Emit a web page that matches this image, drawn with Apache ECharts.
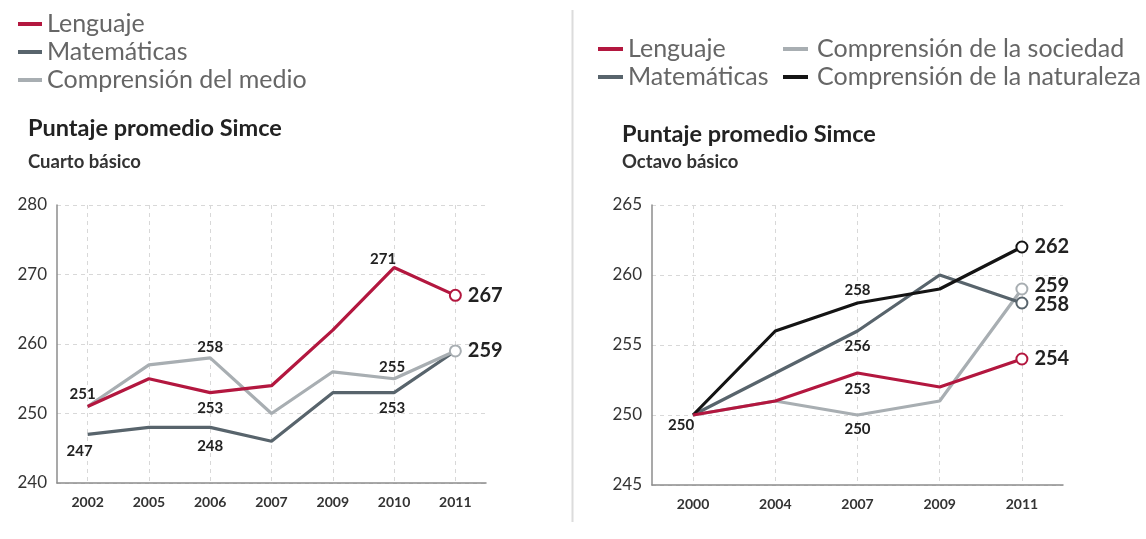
<!DOCTYPE html>
<html><head><meta charset="utf-8">
<script src="https://cdn.jsdelivr.net/npm/echarts@6/dist/echarts.min.js"></script>
<style>html,body{margin:0;padding:0;background:#fff}#c{width:1146px;height:539px}</style>
</head><body><div id="c"></div>
<script>
// ---- data ----
const leftYears = ['2002', '2005', '2006', '2007', '2009', '2010', '2011'];
const leftLenguaje = [251, 255, 253, 254, 262, 271, 267];
const leftMatematicas = [247, 248, 248, 246, 253, 253, 259];
const leftMedio = [251, 257, 258, 250, 256, 255, 259];
const leftYMin = 240, leftYMax = 280, leftYStep = 10;

const rightYears = ['2000', '2004', '2007', '2009', '2011'];
const rightLenguaje = [250, 251, 253, 252, 254];
const rightMatematicas = [250, 253, 256, 260, 258];
const rightSociedad = [250, 251, 250, 251, 259];
const rightNaturaleza = [250, 256, 258, 259, 262];
const rightYMin = 245, rightYMax = 265, rightYStep = 5;

const titleText = 'Puntaje promedio Simce';
const leftSub = 'Cuarto básico';
const rightSub = 'Octavo básico';

// ---- styles ----
const FONT = 'Lato, "Open Sans", sans-serif';
const C_LEN = '#b3173f', C_MAT = '#58646c', C_LIGHT = '#a8aeb2', C_BLK = '#141414';

function small(pos, dist, off) {
  return { show: true, position: pos, distance: dist, offset: off || [0, 0],
    fontSize: 15, fontWeight: 'bold', color: '#222', fontFamily: FONT };
}
function endLab(off) {
  return { show: true, position: 'right', distance: 6, offset: off || [0, 0], fontSize: 20, fontWeight: 'bold', color: '#222', fontFamily: FONT };
}
function mk(values, labels, endMarker, endOff) {
  const last = values.length - 1;
  return values.map((v, i) => {
    const d = { value: v };
    if (labels[i]) d.label = labels[i];
    if (i === last && endMarker) { d.symbol = 'emptyCircle'; d.symbolSize = 11; d.label = endLab(endOff); }
    return d;
  });
}
function line(name, color, values, labels, endMarker, gi, z, endOff) {
  return {
    type: 'line', name, xAxisIndex: gi, yAxisIndex: gi, z: z,
    symbol: 'circle', symbolSize: 0, showAllSymbol: true, showSymbol: true,
    color: color, lineStyle: { color, width: 3.2 },
    itemStyle: { color, borderWidth: 2 },
    label: { show: false }, emphasis: { disabled: true }, animation: false,
    data: mk(values, labels, endMarker, endOff)
  };
}

const axisLineStyle = { color: '#8c8c8c', width: 1.5 };
const splitStyle = { type: [4, 4], color: '#d8d8d8', width: 1 };
function xAx(gi, data) {
  return { type: 'category', gridIndex: gi, data, boundaryGap: true,
    axisLine: { show: true, lineStyle: axisLineStyle },
    axisTick: { show: false, alignWithLabel: true },
    axisLabel: { margin: 12, fontSize: 14, fontWeight: 'bold', color: '#333', fontFamily: FONT, interval: 0 },
    splitLine: { show: true, alignWithLabel: true, interval: 0, lineStyle: splitStyle } };
}
function yAx(gi, min, max, step) {
  return { type: 'value', gridIndex: gi, min, max, interval: step,
    axisLine: { show: true, lineStyle: axisLineStyle }, axisTick: { show: false },
    axisLabel: { margin: 10, fontSize: 17, color: '#333', fontFamily: FONT },
    splitLine: { show: true, lineStyle: splitStyle } };
}
const legendText = { fontSize: 25, fontWeight: 'normal', color: '#666', lineHeight: 28, fontFamily: FONT };
const titleStyle = { fontSize: 23.5, fontWeight: 'bold', color: '#222', lineHeight: 26, fontFamily: FONT };
const subStyle = { fontSize: 18.5, fontWeight: 'bold', color: '#333', lineHeight: 22, fontFamily: FONT };

const option = {
  backgroundColor: '#fff',
  animation: false,
  title: [
    { text: titleText, left: 28, top: 115, padding: 0, textStyle: titleStyle },
    { text: leftSub, left: 28, top: 151, padding: 0, textStyle: subStyle },
    { text: titleText, left: 622, top: 121, padding: 0, textStyle: titleStyle },
    { text: rightSub, left: 622, top: 151, padding: 0, textStyle: subStyle }
  ],
  legend: [
    { left: 18, top: 10, padding: 0, orient: 'vertical', itemGap: 0, itemWidth: 24, itemHeight: 4, icon: 'rect',
      data: ['Lenguaje', 'Matemáticas', 'Comprensión del medio'], textStyle: legendText, itemStyle: { borderWidth: 0 } },
    { left: 598, top: 35, padding: 0, orient: 'vertical', itemGap: 0, itemWidth: 25, itemHeight: 4, icon: 'rect',
      data: ['Lenguaje', 'Matemáticas'], textStyle: legendText, itemStyle: { borderWidth: 0 } },
    { left: 783, top: 35, padding: 0, orient: 'vertical', itemGap: 0, itemWidth: 25, itemHeight: 4, icon: 'rect',
      data: ['Comprensión de la sociedad', 'Comprensión de la naturaleza'],
      textStyle: Object.assign({}, legendText, { padding: [0, 0, 0, 4] }), itemStyle: { borderWidth: 0 } }
  ],
  grid: [
    { left: 57, top: 205, width: 429, height: 278 },
    { left: 652, top: 205, width: 411, height: 280 }
  ],
  xAxis: [xAx(0, leftYears), xAx(1, rightYears)],
  yAxis: [yAx(0, leftYMin, leftYMax, leftYStep), yAx(1, rightYMin, rightYMax, rightYStep)],
  graphic: [
    { type: 'line', shape: { x1: 572.5, y1: 10, x2: 572.5, y2: 522 }, style: { stroke: '#dcdcdc', lineWidth: 2 } }
  ],
  series: [
    line('Matemáticas', C_MAT, leftMatematicas,
      { 0: small('bottom', 9, [-8, 0]), 2: small('bottom', 11, [0, 0]), 5: small('bottom', 8, [-2, 0]) }, false, 0, 2),
    line('Comprensión del medio', C_LIGHT, leftMedio,
      { 0: small('top', 5, [-5, 0]), 2: small('top', 3, [0, 0]), 5: small('top', 4, [-2, 0]) }, true, 0, 3),
    line('Lenguaje', C_LEN, leftLenguaje,
      { 2: small('bottom', 8, [0, 0]), 5: small('top', 1, [-11, 0]) }, true, 0, 4),

    line('Comprensión de la sociedad', C_LIGHT, rightSociedad,
      { 2: small('bottom', 7, [0, 0]) }, true, 1, 2, [0, -3]),
    line('Matemáticas', C_MAT, rightMatematicas,
      { 2: small('bottom', 8, [0, 0]) }, true, 1, 3, [0, 2]),
    line('Comprensión de la naturaleza', C_BLK, rightNaturaleza,
      { 2: small('top', 5, [0, 0]) }, true, 1, 4),
    line('Lenguaje', C_LEN, rightLenguaje,
      { 0: small('bottom', 3, [-12, 0]), 2: small('bottom', 9, [0, 0]) }, true, 1, 5)
  ]
};
const chart = echarts.init(document.getElementById('c'), null, { renderer: 'canvas' });
chart.setOption(option);
</script>
</body></html>
